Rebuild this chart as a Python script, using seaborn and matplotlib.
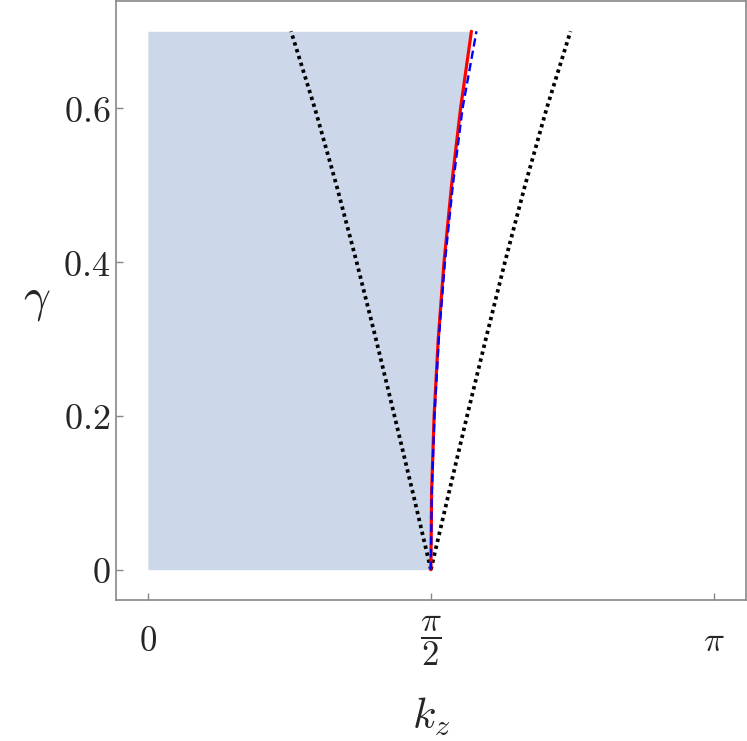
import numpy as np
import pandas as pd
import matplotlib
matplotlib.use("Agg")
import matplotlib.pyplot as plt
import seaborn as sns

# gamma sample levels
gamma = [0.0, 0.1, 0.2, 0.3, 0.4, 0.5, 0.6, 0.7]

# kz positions of each curve at those gamma levels
kz_left_dotted = [1.571, 1.471, 1.369, 1.266, 1.159, 1.047, 0.927, 0.795]
kz_right_dotted = [1.571, 1.671, 1.772, 1.876, 1.982, 2.094, 2.214, 2.346]
kz_red = [1.571, 1.575, 1.589, 1.612, 1.644, 1.686, 1.736, 1.796]
kz_blue = [1.571, 1.576, 1.591, 1.615, 1.649, 1.693, 1.747, 1.824]

x_ticks = [0, np.pi / 2, np.pi]
x_tick_labels = [r"$0$", r"$\dfrac{\pi}{2}$", r"$\pi$"]
y_ticks = [0, 0.2, 0.4, 0.6]
y_tick_labels = [r"$0$", r"$0.2$", r"$0.4$", r"$0.6$"]

sns.set_style("white")
plt.rcParams["font.family"] = ["DejaVu Serif"]
plt.rcParams["mathtext.fontset"] = "cm"

fig = plt.figure(figsize=(7.47, 7.41), dpi=100)
ax = fig.add_axes([0.1549, 0.1903, 0.8438, 0.809])

# shaded region: from kz = 0 up to the red curve
ax.fill_betweenx(gamma, 0, kz_red, color="#ccd8e9", linewidth=0, zorder=1)

curves = {
    "left": (kz_left_dotted, dict(color="black", lw=2.7, linestyle=(0, (0.9, 1.0)))),
    "right": (kz_right_dotted, dict(color="black", lw=2.7, linestyle=(0, (0.9, 1.0)))),
    "red": (kz_red, dict(color="red", lw=2.3, linestyle="-")),
    "blue": (kz_blue, dict(color="blue", lw=1.7, linestyle=(0, (3.5, 1.8)))),
}
for i, (name, (xs, style)) in enumerate(curves.items()):
    df = pd.DataFrame({"kz": xs, "gamma": gamma})
    sns.lineplot(data=df, x="kz", y="gamma", sort=False, estimator=None,
                 ax=ax, zorder=3 + i, **style)

ax.set_xlim(-0.178, 3.320)
ax.set_ylim(-0.0394, 0.740)

ax.set_xticks(x_ticks)
ax.set_xticklabels(x_tick_labels, fontsize=25)
ax.set_yticks(y_ticks)
ax.set_yticklabels(y_tick_labels, fontsize=26)
ax.tick_params(axis="both", direction="in", length=5, width=1, color="#888888",
               bottom=True, left=True, top=False, right=False)
ax.tick_params(axis="y", pad=4)
for lab in ax.get_xticklabels():
    lab.set_verticalalignment("center")
    lab.set_y(-0.06)

for sp in ax.spines.values():
    sp.set_color("#888888")
    sp.set_linewidth(1.2)

ax.set_xlabel(r"$k_z$", fontsize=31)
ax.set_ylabel(r"$\gamma$", fontsize=34, rotation=0, va="center")
ax.xaxis.set_label_coords(0.5, -0.16)
ax.yaxis.set_label_coords(-0.125, 0.5)

fig.savefig("out.png", dpi=100)
